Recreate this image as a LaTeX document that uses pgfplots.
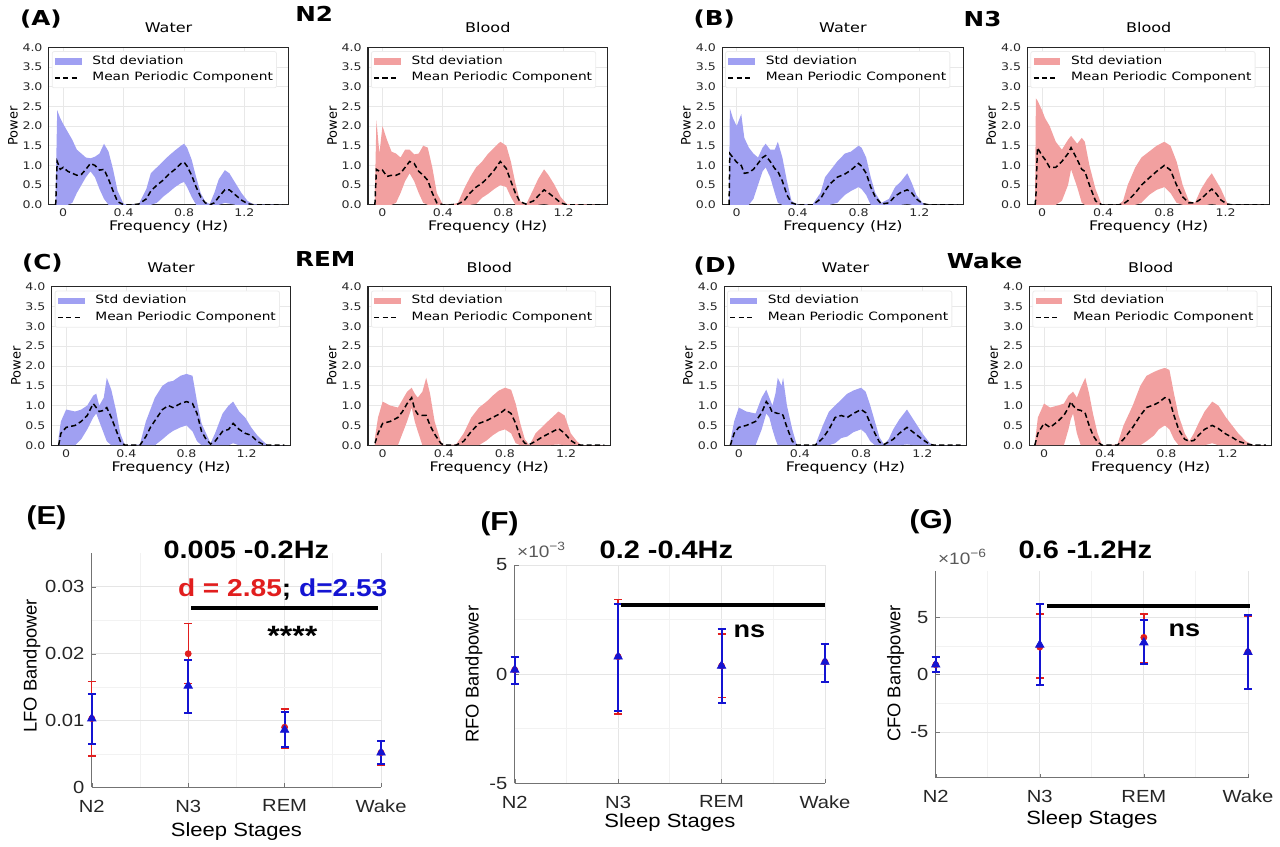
\documentclass[border=0pt]{standalone}
\usepackage{pgfplots}
\pgfplotsset{compat=1.18}
\usepgfplotslibrary{fillbetween}
\usepackage{pgfplotstable}
\usepackage{fontspec}
\setmainfont{DejaVu Sans}
\newfontfamily\fTop{DejaVu Sans}[FakeStretch=1.2]
\newfontfamily\fTopV{DejaVu Sans}
\newfontfamily\fBot{Liberation Sans}[FakeStretch=1.15]
\newfontfamily\fBotV{Liberation Sans}
\newcommand\fs[1]{\fontsize{#1pt}{#1pt}\selectfont}
\definecolor{bfill}{RGB}{160,160,242}
\definecolor{rfill}{RGB}{242,160,160}
\definecolor{mblue}{RGB}{20,20,210}
\definecolor{mred}{RGB}{225,30,30}

\pgfplotstableread[row sep=\\]{
x lo hi m\\
-0.05 0 0.3 0\\
-0.04 0 2.4 1.1\\
-0.02 0 2.2 0.9\\
0.00 0 2.05 0.95\\
0.03 0 1.85 0.85\\
0.06 0.05 1.65 0.8\\
0.09 0.3 1.4 0.75\\
0.12 0.5 1.3 0.77\\
0.15 0.7 1.2 0.9\\
0.18 0.85 1.18 1.05\\
0.21 0.7 1.22 1.0\\
0.24 0.4 1.3 0.88\\
0.27 0.15 1.55 0.9\\
0.30 0 1.35 0.65\\
0.33 0 0.9 0.35\\
0.36 0 0.35 0.08\\
0.40 0 0.02 0\\
0.45 0 0 0\\
0.50 0 0.02 0.02\\
0.55 0 0.4 0.15\\
0.58 0 0.8 0.35\\
0.62 0.05 0.95 0.5\\
0.66 0.2 1.1 0.62\\
0.70 0.32 1.25 0.78\\
0.74 0.45 1.38 0.9\\
0.78 0.55 1.5 1.05\\
0.80 0.58 1.55 1.08\\
0.82 0.45 1.45 0.98\\
0.85 0.2 1.15 0.75\\
0.88 0 0.7 0.45\\
0.91 0 0.3 0.2\\
0.94 0 0.08 0.05\\
0.97 0 0.02 0\\
1.00 0 0.3 0.05\\
1.03 0 0.65 0.2\\
1.07 0.05 0.88 0.38\\
1.10 0.03 0.8 0.38\\
1.14 0 0.55 0.25\\
1.18 0 0.3 0.12\\
1.22 0 0.1 0.03\\
1.26 0 0.01 0\\
1.45 0 0 0\\
}\Aw

\pgfplotstableread[row sep=\\]{
x lo hi m\\
-0.05 0 0.3 0\\
-0.04 0 2.15 0.9\\
-0.02 0 1.3 0.85\\
0.00 0 2.0 0.88\\
0.03 0 1.65 0.72\\
0.06 0 1.35 0.75\\
0.09 0.05 1.3 0.75\\
0.12 0.3 1.2 0.8\\
0.15 0.6 1.4 0.95\\
0.18 0.8 1.4 1.1\\
0.21 0.6 1.28 1.05\\
0.24 0.3 1.3 0.85\\
0.27 0.05 1.5 0.75\\
0.30 0 1.45 0.62\\
0.33 0 0.95 0.3\\
0.36 0 0.3 0.05\\
0.40 0 0 0\\
0.45 0 0 0\\
0.50 0 0.05 0.02\\
0.54 0 0.4 0.1\\
0.58 0 0.7 0.3\\
0.62 0.02 0.95 0.45\\
0.66 0.18 1.1 0.55\\
0.70 0.28 1.3 0.7\\
0.74 0.4 1.45 0.88\\
0.78 0.5 1.6 1.1\\
0.82 0.45 1.5 0.92\\
0.85 0.2 1.1 0.6\\
0.88 0 0.55 0.3\\
0.91 0 0.1 0.08\\
0.95 0 0 0.02\\
1.00 0 0.4 0.1\\
1.03 0 0.65 0.22\\
1.07 0.02 0.9 0.38\\
1.10 0 0.75 0.3\\
1.14 0 0.5 0.18\\
1.18 0 0.2 0.05\\
1.22 0 0.02 0\\
1.45 0 0 0\\
}\Ab

\pgfplotstableread[row sep=\\]{
x lo hi m\\
-0.05 0 0.3 0\\
-0.045 0 2.45 1.3\\
-0.025 0 2.2 1.2\\
0.00 0 2.0 1.08\\
0.03 0 2.3 1.0\\
0.05 0 1.7 0.8\\
0.08 0 1.45 0.82\\
0.11 0.15 1.3 0.9\\
0.14 0.5 1.2 1.05\\
0.17 0.85 1.45 1.2\\
0.19 0.95 1.55 1.25\\
0.22 0.7 1.4 1.1\\
0.25 0.3 1.4 0.92\\
0.27 0.05 1.6 0.85\\
0.30 0 1.2 0.6\\
0.33 0 0.6 0.25\\
0.36 0 0.1 0.05\\
0.40 0 0 0\\
0.50 0 0.02 0\\
0.55 0 0.3 0.15\\
0.58 0 0.7 0.35\\
0.61 0 0.85 0.52\\
0.66 0.05 1.1 0.7\\
0.71 0.25 1.3 0.78\\
0.75 0.35 1.35 0.88\\
0.80 0.45 1.5 1.05\\
0.82 0.4 1.45 0.98\\
0.85 0.25 1.2 0.8\\
0.88 0 0.7 0.45\\
0.91 0 0.3 0.2\\
0.95 0 0.05 0.02\\
1.00 0 0.15 0.05\\
1.04 0 0.45 0.22\\
1.08 0 0.6 0.32\\
1.12 0.02 0.8 0.38\\
1.15 0 0.55 0.3\\
1.18 0 0.25 0.15\\
1.22 0 0.05 0.03\\
1.26 0 0 0\\
1.45 0 0 0\\
}\Bw

\pgfplotstableread[row sep=\\]{
x lo hi m\\
-0.045 0 0.3 0\\
-0.04 0 2.7 0.2\\
-0.03 0 2.65 1.45\\
0.00 0 2.4 1.25\\
0.02 0 2.2 1.15\\
0.05 0 2.0 0.95\\
0.09 0 1.6 0.95\\
0.13 0.1 1.4 1.1\\
0.17 0.5 1.65 1.3\\
0.19 0.9 1.75 1.45\\
0.23 0.45 1.55 1.15\\
0.26 0.05 1.7 0.9\\
0.28 0 1.6 0.85\\
0.31 0 1.0 0.5\\
0.35 0 0.4 0.1\\
0.39 0 0 0\\
0.50 0 0 0\\
0.53 0 0.1 0.02\\
0.56 0 0.5 0.1\\
0.61 0 0.95 0.3\\
0.65 0.05 1.2 0.5\\
0.70 0.25 1.35 0.68\\
0.75 0.38 1.5 0.85\\
0.80 0.45 1.6 1.0\\
0.84 0.3 1.5 0.88\\
0.88 0.05 1.1 0.5\\
0.92 0 0.5 0.2\\
0.96 0 0.1 0.05\\
1.00 0 0.05 0.05\\
1.04 0 0.4 0.15\\
1.08 0 0.65 0.3\\
1.11 0.02 0.8 0.4\\
1.14 0 0.6 0.28\\
1.17 0 0.4 0.12\\
1.21 0 0.05 0.02\\
1.24 0 0 0\\
1.45 0 0 0\\
}\Bb

\pgfplotstableread[row sep=\\]{
x lo hi m\\
-0.05 0 0.2 0\\
-0.035 0 0.6 0.3\\
0.00 0 0.9 0.45\\
0.06 0 0.85 0.5\\
0.10 0.15 0.9 0.6\\
0.14 0.4 1.0 0.75\\
0.18 0.7 1.25 1.05\\
0.20 0.8 1.3 0.95\\
0.22 0.6 1.0 0.85\\
0.25 0.3 1.2 0.88\\
0.27 0.1 1.7 0.95\\
0.30 0 1.4 0.7\\
0.33 0 0.9 0.4\\
0.36 0 0.3 0.1\\
0.39 0 0 0\\
0.49 0 0.02 0\\
0.53 0 0.6 0.22\\
0.56 0 0.9 0.45\\
0.59 0 1.2 0.62\\
0.64 0.15 1.5 0.9\\
0.68 0.28 1.6 1.0\\
0.71 0.36 1.62 0.95\\
0.76 0.45 1.75 1.05\\
0.80 0.5 1.8 1.1\\
0.84 0.35 1.75 1.05\\
0.87 0.1 1.1 0.8\\
0.90 0 0.55 0.35\\
0.93 0 0.3 0.15\\
0.96 0 0.05 0.03\\
0.99 0 0.3 0.1\\
1.04 0 0.8 0.35\\
1.08 0 1.0 0.4\\
1.11 0.05 1.1 0.55\\
1.15 0 0.85 0.4\\
1.19 0 0.7 0.3\\
1.23 0 0.45 0.25\\
1.27 0 0.25 0.1\\
1.31 0 0.1 0.02\\
1.34 0 0 0\\
1.45 0 0 0\\
}\Cw

\pgfplotstableread[row sep=\\]{
x lo hi m\\
-0.05 0 0.2 0.05\\
-0.03 0 0.7 0.3\\
0.00 0 1.1 0.55\\
0.05 0 1.0 0.6\\
0.10 0 0.95 0.7\\
0.13 0.3 1.15 0.85\\
0.16 0.6 1.35 1.05\\
0.19 0.95 1.45 1.2\\
0.21 0.6 1.3 0.9\\
0.23 0.35 1.2 0.78\\
0.26 0 1.35 0.75\\
0.285 0 1.7 0.75\\
0.31 0 1.3 0.5\\
0.34 0 0.6 0.28\\
0.38 0 0.1 0.05\\
0.40 0 0 0\\
0.48 0 0.02 0\\
0.53 0 0.3 0.1\\
0.58 0 0.7 0.35\\
0.63 0 0.95 0.55\\
0.68 0.12 1.1 0.62\\
0.72 0.25 1.25 0.7\\
0.76 0.35 1.38 0.78\\
0.80 0.4 1.45 0.9\\
0.84 0.3 1.4 0.8\\
0.87 0.05 1.05 0.55\\
0.90 0 0.55 0.2\\
0.93 0 0.15 0.05\\
0.96 0 0 0.02\\
1.00 0 0.3 0.1\\
1.04 0 0.45 0.2\\
1.08 0 0.6 0.28\\
1.15 0.02 0.85 0.42\\
1.19 0 0.75 0.3\\
1.23 0 0.3 0.12\\
1.27 0 0.1 0.02\\
1.30 0 0 0\\
1.45 0 0 0\\
}\Cb

\pgfplotstableread[row sep=\\]{
x lo hi m\\
-0.055 0 0.1 0\\
-0.03 0 0.6 0.3\\
0.00 0 0.95 0.45\\
0.05 0 0.85 0.5\\
0.11 0 0.8 0.6\\
0.15 0.4 1.2 0.82\\
0.18 0.8 1.4 1.1\\
0.20 0.7 1.2 1.0\\
0.22 0.4 1.0 0.82\\
0.24 0.15 1.3 0.82\\
0.255 0 1.7 0.8\\
0.28 0 1.5 0.8\\
0.29 0 1.7 0.75\\
0.315 0 1.0 0.45\\
0.35 0 0.4 0.1\\
0.38 0 0 0\\
0.50 0 0 0\\
0.55 0 0.5 0.18\\
0.59 0 0.85 0.4\\
0.63 0.05 1.0 0.7\\
0.67 0.18 1.15 0.75\\
0.71 0.22 1.3 0.7\\
0.75 0.33 1.38 0.8\\
0.80 0.4 1.45 0.9\\
0.83 0.3 1.35 0.82\\
0.86 0.1 1.0 0.55\\
0.89 0 0.6 0.3\\
0.92 0 0.2 0.08\\
0.95 0 0.02 0.02\\
0.98 0 0.15 0.08\\
1.01 0 0.4 0.15\\
1.05 0 0.65 0.3\\
1.10 0.02 0.9 0.45\\
1.15 0 0.6 0.3\\
1.20 0 0.3 0.15\\
1.25 0 0.05 0.02\\
1.28 0 0 0\\
1.45 0 0 0\\
}\Dw

\pgfplotstableread[row sep=\\]{
x lo hi m\\
-0.06 0 0.05 0\\
-0.04 0 0.7 0.3\\
0.00 0 1.05 0.55\\
0.04 0 0.95 0.45\\
0.09 0 1.0 0.6\\
0.13 0 1.05 0.75\\
0.16 0.4 1.25 0.95\\
0.175 0.65 1.3 1.1\\
0.19 0.8 1.35 1.0\\
0.215 0.3 1.2 0.9\\
0.24 0 1.45 0.88\\
0.27 0 1.7 0.8\\
0.295 0 1.3 0.5\\
0.32 0 0.8 0.25\\
0.35 0 0.3 0.08\\
0.38 0 0 0\\
0.48 0 0.02 0\\
0.52 0 0.5 0.15\\
0.58 0 1.0 0.45\\
0.63 0 1.5 0.75\\
0.67 0.1 1.75 0.95\\
0.72 0.25 1.85 1.02\\
0.75 0.4 1.9 1.08\\
0.79 0.5 1.95 1.2\\
0.82 0.4 1.9 1.15\\
0.85 0.15 1.3 0.75\\
0.88 0 0.75 0.4\\
0.92 0 0.3 0.15\\
0.95 0 0.1 0.1\\
0.98 0 0.3 0.12\\
1.01 0 0.55 0.25\\
1.05 0 0.85 0.4\\
1.10 0.05 1.1 0.5\\
1.14 0 1.0 0.42\\
1.19 0 0.7 0.28\\
1.23 0 0.5 0.2\\
1.27 0 0.3 0.1\\
1.32 0 0.1 0.04\\
1.37 0 0 0\\
1.45 0 0 0\\
}\Db

% bottom panels: x y err+ err-
\pgfplotstableread[row sep=\\]{
x y ep em\\
0 0.0103 0.0055 0.0056\\
1 0.0200 0.0045 0.0045\\
2 0.0090 0.0027 0.0032\\
3 0.0052 0.0018 0.0019\\
}\Ered
\pgfplotstableread[row sep=\\]{
x y ep em\\
0 0.0103 0.0036 0.0038\\
1 0.0152 0.0039 0.0040\\
2 0.0086 0.0027 0.0026\\
3 0.0052 0.0018 0.0017\\
}\Eblue
\pgfplotstableread[row sep=\\]{
x y ep em\\
0 0.20 0.60 0.63\\
1 0.80 2.62 2.63\\
2 0.38 1.45 1.45\\
3 0.56 0.84 0.91\\
}\Fred
\pgfplotstableread[row sep=\\]{
x y ep em\\
0 0.20 0.60 0.63\\
1 0.80 2.43 2.50\\
2 0.38 1.67 1.68\\
3 0.56 0.84 0.91\\
}\Fblue
\pgfplotstableread[row sep=\\]{
x y ep em\\
0 0.87 0.67 0.67\\
1 2.40 2.90 2.70\\
2 3.25 2.05 2.18\\
3 1.97 3.15 3.20\\
}\Gred
\pgfplotstableread[row sep=\\]{
x y ep em\\
0 0.87 0.67 0.67\\
1 2.60 3.54 3.47\\
2 2.80 1.98 1.84\\
3 1.97 3.23 3.22\\
}\Gblue

\pgfplotsset{
 bandleg/.style={legend image code/.code={\fill[##1, sharp corners] (0pt,-1.6pt) rectangle (13.5pt,1.6pt);}},
 lineleg/.style={legend image code/.code={\draw[##1, sharp corners] (0pt,0pt) -- (12.5pt,0pt);}},
 meanline/.style={black, line width=0.75pt, dash pattern=on 2.6pt off 1.6pt, lineleg},
 toppanel/.style={
  scale only axis, clip=true,
  xmin=-0.095, xmax=1.49, ymin=0, ymax=4,
  xtick={0,0.4,0.8,1.2}, xticklabels={\mbox{0},\mbox{0.4},\mbox{0.8},\mbox{1.2}},
  ytick={0,0.5,1,1.5,2,2.5,3,3.5,4},
  yticklabels={\mbox{0.0},\mbox{0.5},\mbox{1.0},\mbox{1.5},\mbox{2.0},\mbox{2.5},\mbox{3.0},\mbox{3.5},\mbox{4.0}},
  grid=major, major grid style={gray!18, line width=0.4pt},
  major tick length=0pt,
  axis line style={black!85, line width=0.6pt},
  tick label style={font=\fTop\fs{5.25}, text=black!85},
  xticklabel style={inner ysep=2pt},
  yticklabel style={inner xsep=3pt, inner ysep=0pt},
  xlabel={Frequency (Hz)}, ylabel={Power},
  xlabel style={font=\fTop\fs{6.6}, at={(axis description cs:0.5,-0.14)}, anchor=center},
  ylabel style={font=\fTopV\fs{6.5}, at={(axis description cs:-0.15,0.5)}, anchor=center},
  title style={font=\fTop\fs{6.7}, at={(axis description cs:0.5,1)}, anchor=south, inner sep=1pt},
  legend cell align=left,
  legend style={at={(axis description cs:0.012,0.975)}, anchor=north west,
    draw=gray!15, fill=white, rounded corners=1pt, font=\fTop\fs{5.75},
    inner xsep=1pt, inner ysep=1.5pt, row sep=1.2pt, column sep=4.5pt,
    nodes={inner sep=0.8pt, text height=4.2pt, text depth=1.2pt}},
 },
 botpanel/.style={
  scale only axis, clip=false,
  xmin=0, xmax=3, xtick={0,1,2,3}, xticklabels={\mbox{N2},\mbox{N3},\mbox{REM},\mbox{Wake}},
  axis x line*=bottom, axis y line*=left,
  axis line style={black!55, line width=0.5pt},
  grid=both, major grid style={gray!20, line width=0.4pt},
  minor grid style={gray!10, line width=0.4pt},
  minor x tick num=1, minor y tick num=1,
  tick style={black!55}, major tick length=2pt, minor tick length=0pt, tick align=inside,
  scaled y ticks=false,
  tick label style={font=\fBot\fs{8.8}, text=black!85},
  xticklabel style={inner ysep=0pt, yshift=-6pt},
  yticklabel style={inner xsep=3.5pt, inner ysep=0pt},
  xlabel={Sleep Stages},
  xlabel style={font=\fBot\fs{9.6}, anchor=center},
  ylabel style={font=\fBotV\fs{9.2}, anchor=center},
 },
 redbar/.style={only marks, mark=*, mark size=1.5pt, color=mred,
   error bars/.cd, y dir=both, y explicit,
   error bar style={line width=0.7pt, mred},
   error mark options={rotate=90, mred, mark size=2pt, line width=0.7pt}},
 bluebar/.style={only marks, mark=triangle*, mark size=2.4pt, color=mblue,
   error bars/.cd, y dir=both, y explicit,
   error bar style={line width=1pt, mblue},
   error mark options={rotate=90, mblue, mark size=2pt, line width=1pt}},
 sigbar/.style={black, line width=2pt, forget plot},
}

\newcommand\band[3]{%
 \addplot[draw=none, name path=hi#3, forget plot] table[x=x,y=hi]{#1};
 \addplot[draw=none, name path=lo#3, forget plot] table[x=x,y=lo]{#1};
 \addplot[fill=#2, draw=none, area legend, bandleg] fill between[of=hi#3 and lo#3];
 \addlegendentry{Std deviation}
 \addplot[meanline] table[x=x,y=m]{#1};
 \addlegendentry{Mean Periodic Component}
}

\begin{document}
\begin{tikzpicture}
\path (0,0) rectangle (640pt,-423pt);

% ---------- row 1 ----------
\begin{axis}[toppanel, at={(24.5pt,-102pt)}, anchor=south west, width=120pt, height=79pt, title={Water}]
\band{\Aw}{bfill}{a}
\end{axis}
\begin{axis}[toppanel, at={(184.5pt,-102pt)}, anchor=south west, width=120pt, height=79pt, title={Blood}]
\band{\Ab}{rfill}{b}
\end{axis}
\begin{axis}[toppanel, at={(362pt,-102pt)}, anchor=south west, width=121pt, height=79pt, title={Water}]
\band{\Bw}{bfill}{c}
\end{axis}
\begin{axis}[toppanel, at={(515pt,-102pt)}, anchor=south west, width=121.5pt, height=79pt, title={Blood}]
\band{\Bb}{rfill}{d}
\end{axis}

% ---------- row 2 ----------
\begin{axis}[toppanel, at={(26pt,-222.5pt)}, anchor=south west, width=119.5pt, height=79.5pt, title={Water}]
\band{\Cw}{bfill}{e}
\end{axis}
\begin{axis}[toppanel, at={(184.5pt,-222.5pt)}, anchor=south west, width=121.5pt, height=79.5pt, title={Blood}]
\band{\Cb}{rfill}{f}
\end{axis}
\begin{axis}[toppanel, at={(363pt,-222.5pt)}, anchor=south west, width=121.5pt, height=79.5pt, title={Water}]
\band{\Dw}{bfill}{g}
\end{axis}
\begin{axis}[toppanel, at={(516pt,-222.5pt)}, anchor=south west, width=121.5pt, height=79.5pt, title={Blood}]
\band{\Db}{rfill}{h}
\end{axis}

% ---------- panel E ----------
\begin{axis}[botpanel, at={(46pt,-394pt)}, anchor=south west, width=145pt, height=117.25pt,
  ymin=0, ymax=0.035, ytick={0,0.01,0.02,0.03}, yticklabels={\mbox{0},\mbox{0.01},\mbox{0.02},\mbox{0.03}},
  ylabel={LFO Bandpower},
  ylabel style={at={(axis description cs:-0.207,0.52)}},
  xlabel style={at={(axis description cs:0.5,-0.188)}}]
\addplot[redbar] table[x=x, y=y, y error plus=ep, y error minus=em]{\Ered};
\addplot[bluebar] table[x=x, y=y, y error plus=ep, y error minus=em]{\Eblue};
\addplot[sigbar] coordinates {(1.03,0.02677) (2.97,0.02677)};
\node[font=\fBot\bfseries\fs{12.25}] at (axis cs:1.98,0.0296) {\textcolor{mred}{d = 2.85}; \textcolor{mblue}{d=2.53}};
\node[font=\fBot\bfseries\fs{14}] at (axis cs:2.08,0.0227) {****};
\end{axis}

% ---------- panel F ----------
\begin{axis}[botpanel, at={(258pt,-392pt)}, anchor=south west, width=155.5pt, height=109.5pt,
  ymin=-5, ymax=5, ytick={-5,0,5}, yticklabels={\mbox{-5},\mbox{0},\mbox{5}},
  ylabel={RFO Bandpower},
  ylabel style={at={(axis description cs:-0.132,0.5)}},
  xlabel style={at={(axis description cs:0.5,-0.178)}}]
\addplot[redbar] table[x=x, y=y, y error plus=ep, y error minus=em]{\Fred};
\addplot[bluebar] table[x=x, y=y, y error plus=ep, y error minus=em]{\Fblue};
\addplot[sigbar] coordinates {(1.03,3.15) (3.0,3.15)};
\node[font=\fBot\bfseries\fs{11.8}] at (axis cs:2.27,1.98) {ns};
\end{axis}

% ---------- panel G ----------
\begin{axis}[botpanel, at={(469pt,-389.25pt)}, anchor=south west, width=156.5pt, height=103.5pt,
  ymin=-9, ymax=9, ytick={-5,0,5}, yticklabels={\mbox{-5},\mbox{0},\mbox{5}},
  ylabel={CFO Bandpower},
  ylabel style={at={(axis description cs:-0.128,0.505)}},
  xlabel style={at={(axis description cs:0.5,-0.2)}}]
\addplot[redbar] table[x=x, y=y, y error plus=ep, y error minus=em]{\Gred};
\addplot[bluebar] table[x=x, y=y, y error plus=ep, y error minus=em]{\Gblue};
\addplot[sigbar] coordinates {(1.07,6.0) (3.02,6.0)};
\node[font=\fBot\bfseries\fs{11.8}] at (axis cs:2.39,3.9) {ns};
\end{axis}

% ---------- labels ----------
\node[font=\fTop\bfseries\fs{10.3}] at (20.5pt,-9pt) {(A)};
\node[font=\fTop\bfseries\fs{10.3}] at (157.5pt,-6.5pt) {N2};
\node[font=\fTop\bfseries\fs{10.3}] at (358pt,-9pt) {(B)};
\node[font=\fTop\bfseries\fs{10.3}] at (492.5pt,-9pt) {N3};
\node[font=\fTop\bfseries\fs{10.3}] at (21.25pt,-131pt) {(C)};
\node[font=\fTop\bfseries\fs{10.3}] at (163pt,-129pt) {REM};
\node[font=\fTop\bfseries\fs{10.3}] at (358.5pt,-132.5pt) {(D)};
\node[font=\fTop\bfseries\fs{10.3}] at (493.5pt,-130pt) {Wake};

\node[font=\fBot\bfseries\fs{13}] at (23.3pt,-259pt) {(E)};
\node[font=\fBot\bfseries\fs{13}] at (250.4pt,-261.7pt) {(F)};
\node[font=\fBot\bfseries\fs{13}] at (466.7pt,-261pt) {(G)};
\node[font=\fBot\bfseries\fs{12.6}] at (123.5pt,-275pt) {0.005 -0.2Hz};
\node[font=\fBot\bfseries\fs{12.6}] at (334pt,-275pt) {0.2 -0.4Hz};
\node[font=\fBot\bfseries\fs{12.6}] at (544pt,-275pt) {0.6 -1.2Hz};
\node[font=\fBot\fs{8.3}, text=black!65, anchor=base west, inner sep=0pt] at (259pt,-279pt) {×10\raisebox{0.85ex}{\fs{6}−3}};
\node[font=\fBot\fs{8.3}, text=black!65, anchor=base west, inner sep=0pt] at (470pt,-282.5pt) {×10\raisebox{0.85ex}{\fs{6}−6}};
\end{tikzpicture}
\end{document}
